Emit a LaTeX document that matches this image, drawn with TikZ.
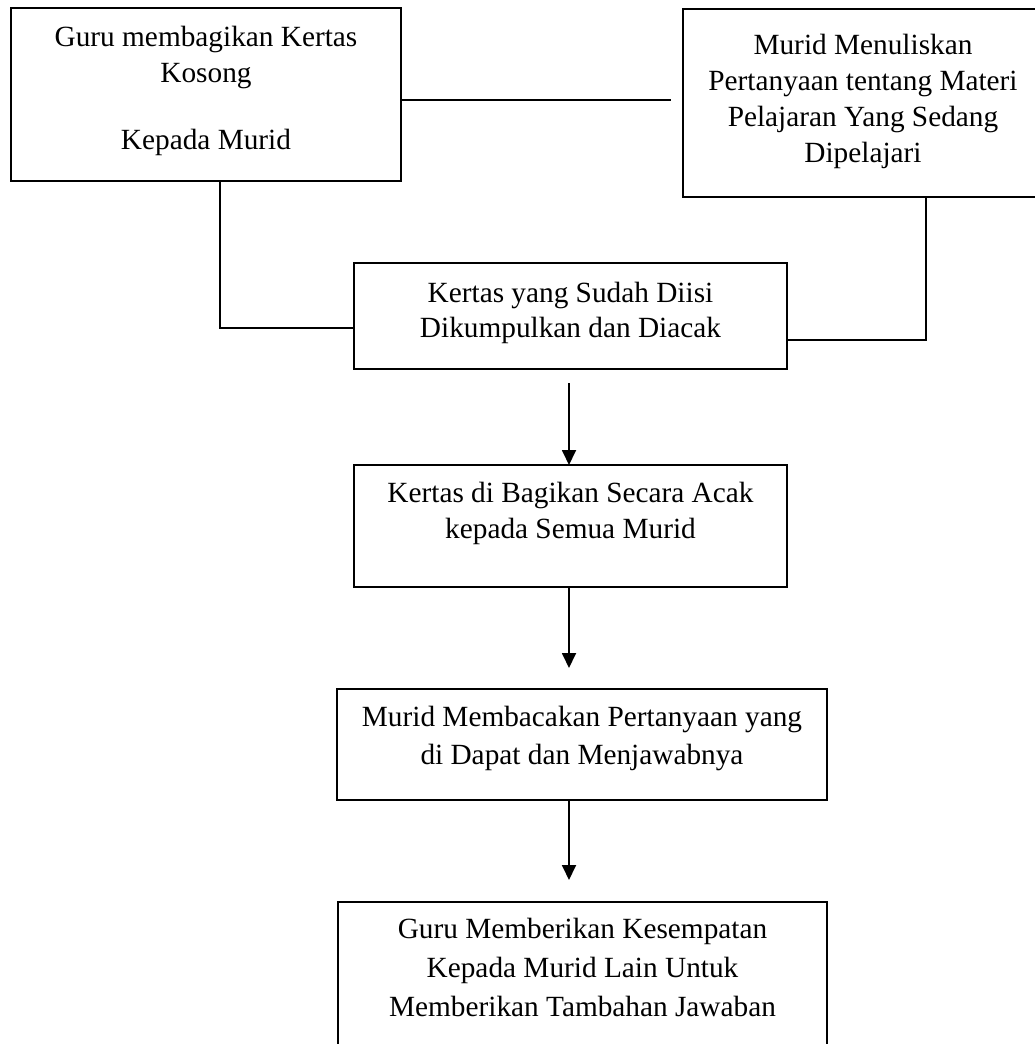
\documentclass[tikz,border=0pt]{standalone}
\usepackage{fontspec}
\setmainfont{Liberation Serif}
\usetikzlibrary{arrows.meta}
\newcommand\bxt[5]{\parbox[c][#2pt][t]{#1pt}{\centering\fontsize{29.3}{#4}\selectfont\vspace*{#3pt}\strut #5\par}}
\begin{document}
\begin{tikzpicture}[x=1pt,y=-1pt,
  flowbox/.style={draw,line width=1.8pt,inner sep=0pt,outer sep=0pt},
  conn/.style={line width=1.8pt},
  arr/.style={line width=1.8pt,-{Triangle[length=15pt,width=14pt]}}]
\useasboundingbox (0,0) rectangle (1035,1044);
\clip (0,0) rectangle (1035,1044);
\fill[white] (0,0) rectangle (1035,1044);
\node[flowbox] (b1) at (206,94.5) {\bxt{390}{173}{13.5}{36}{Guru membagikan Kertas\\Kosong\\[31pt]Kepada Murid}};
\node[flowbox] (b2) at (873,103) {\bxt{380}{188}{21}{35.7}{\rightskip=20pt plus 1fil Murid Menuliskan\\Pertanyaan tentang Materi\\Pelajaran Yang Sedang\\Dipelajari}};
\node[flowbox] (b3) at (570.5,316) {\bxt{433}{106}{14.2}{35.5}{Kertas yang Sudah Diisi\\Dikumpulkan dan Diacak}};
\node[flowbox] (b4) at (570.5,526) {\bxt{433}{122}{11.6}{36.7}{Kertas di Bagikan Secara Acak\\kepada Semua Murid}};
\node[flowbox] (b5) at (582,744.5) {\bxt{490}{111}{11.6}{37.3}{Murid Membacakan Pertanyaan yang\\di Dapat dan Menjawabnya}};
\node[flowbox] (b6) at (582.5,986) {\bxt{489}{168}{9.8}{38.8}{Guru Memberikan Kesempatan\\Kepada Murid Lain Untuk\\Memberikan Tambahan Jawaban}};
\coordinate (c12) at (671,100);
\coordinate (k1) at (220,328);
\coordinate (k2) at (926,340);
\coordinate (ax) at (569,0);
\draw[conn] (b1.east |- c12) -- (c12);
\draw[conn] (k1 |- b1.south) -- (k1) -- (k1 -| b3.west);
\draw[conn] (k2 |- b2.south) -- (k2) -- (k2 -| b3.east);
\draw[arr] ([yshift=-14pt]b3.south -| ax) -- (b4.north -| ax);
\draw[arr] (b4.south -| ax) -- ([yshift=21pt]b5.north -| ax);
\draw[arr] (b5.south -| ax) -- ([yshift=22pt]b6.north -| ax);
\end{tikzpicture}
\end{document}
